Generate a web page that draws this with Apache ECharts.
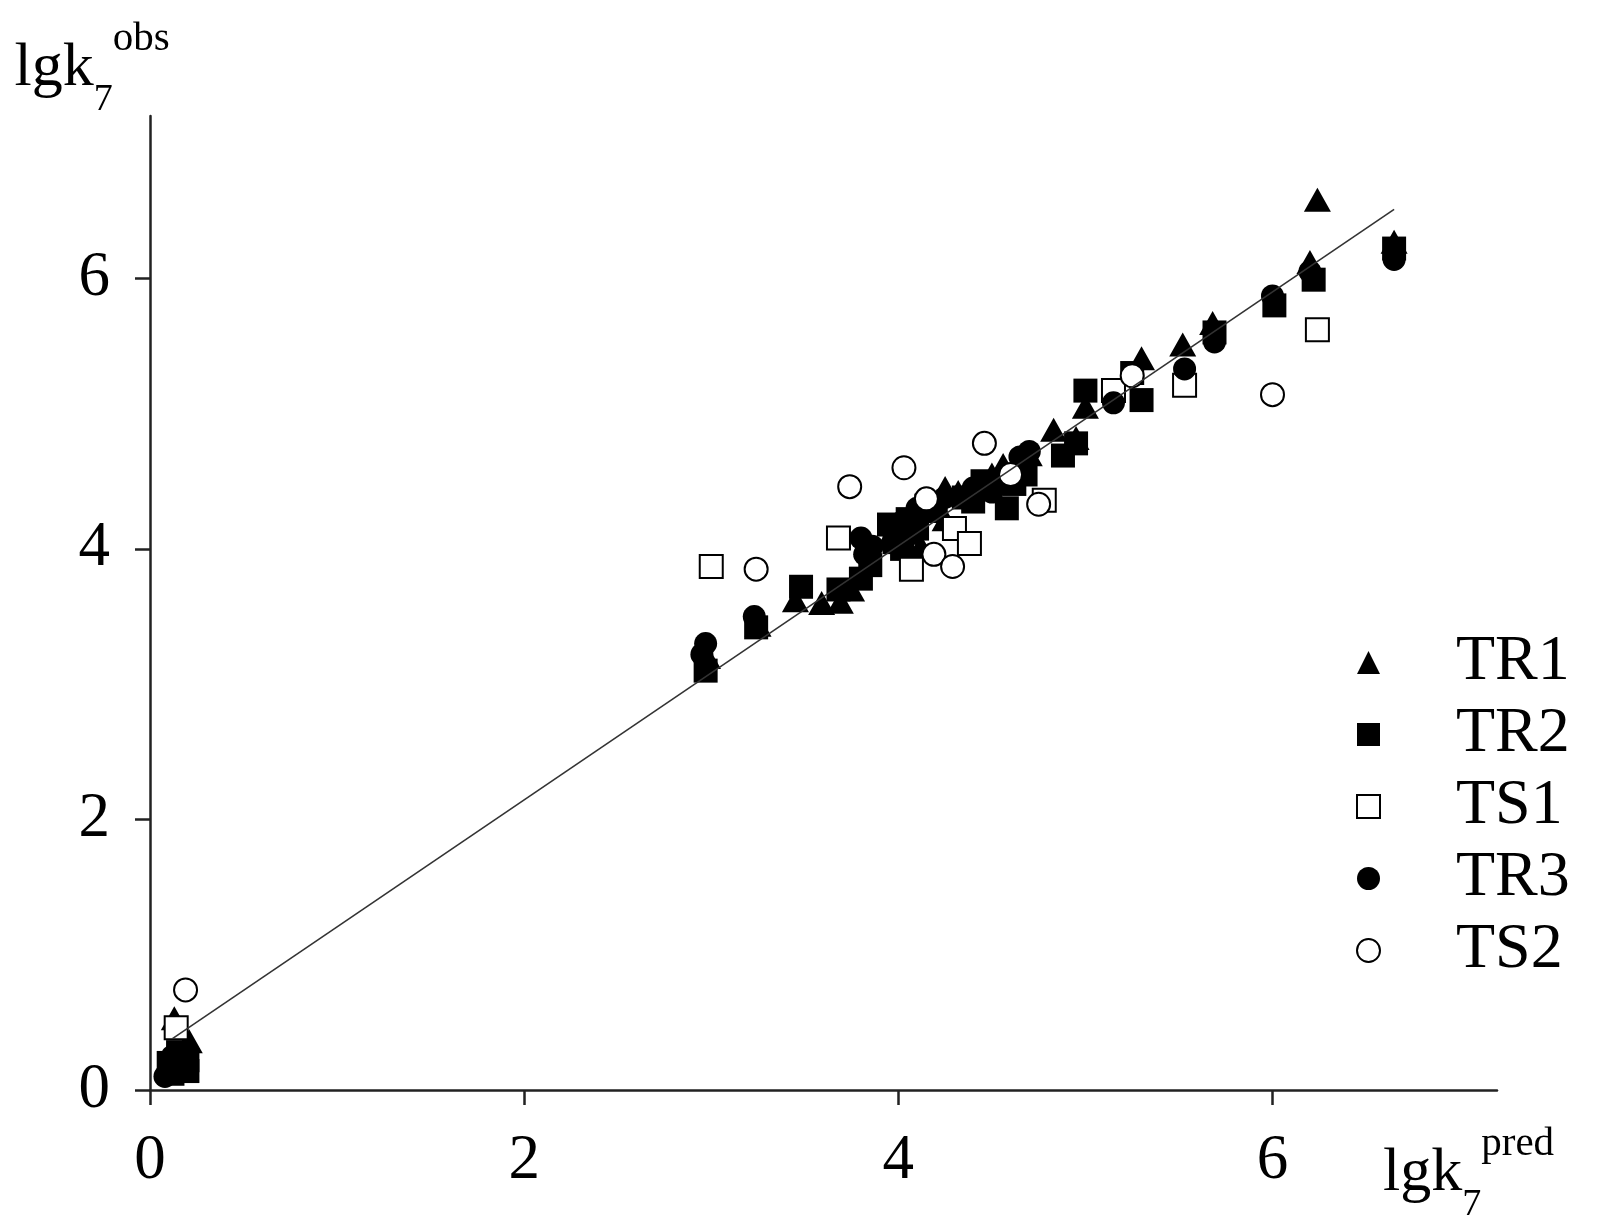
<!DOCTYPE html>
<html>
<head>
<meta charset="utf-8">
<script src="https://cdn.jsdelivr.net/npm/echarts@6/dist/echarts.min.js"></script>
<style>
  html, body { margin: 0; padding: 0; background: #fff; }
  #chart { width: 1601px; height: 1227px; }
</style>
</head>
<body>
<div id="chart"></div>
<script>
// lgk7 pred / obs values
var tr1 = [
  [0.13, 0.53], [0.18, 0.3], [0.21, 0.36],
  [2.98, 3.2], [3.25, 3.44], [3.45, 3.62], [3.59, 3.6], [3.69, 3.61], [3.75, 3.7],
  [3.95, 4.08], [4.0, 4.2], [4.05, 4.12], [4.12, 4.02], [4.25, 4.22], [4.25, 4.45], [4.32, 4.42],
  [4.5, 4.55], [4.56, 4.62], [4.7, 4.7], [4.83, 4.88], [4.95, 4.82], [5.0, 5.05],
  [5.3, 5.41], [5.52, 5.51], [5.68, 5.67], [6.2, 6.12], [6.24, 6.58], [6.65, 6.27]
];
var tr2 = [
  [0.1, 0.2], [0.2, 0.22], [0.15, 0.28], [0.12, 0.12], [0.2, 0.14],
  [2.97, 3.1], [3.24, 3.42], [3.48, 3.72], [3.68, 3.7], [3.8, 3.78], [3.85, 3.88],
  [3.95, 4.18], [3.98, 4.05], [4.02, 4.0], [4.05, 4.22], [4.1, 4.15], [4.15, 4.32], [4.2, 4.28],
  [4.35, 4.38], [4.4, 4.35], [4.45, 4.5], [4.58, 4.3], [4.62, 4.48], [4.68, 4.55], [4.88, 4.69],
  [4.95, 4.78], [5.0, 5.17], [5.25, 5.3], [5.3, 5.1], [5.69, 5.6], [6.01, 5.8],
  [6.22, 5.99], [6.65, 6.22]
];
var ts1 = [
  [0.14, 0.46], [3.0, 3.87], [3.68, 4.08], [4.07, 3.85], [4.3, 4.15], [4.38, 4.04],
  [4.78, 4.36], [5.15, 5.17], [5.53, 5.21], [6.24, 5.62]
];
var tr3 = [
  [0.1, 0.15], [0.12, 0.25], [0.2, 0.18], [0.08, 0.1],
  [2.97, 3.3], [2.95, 3.22], [3.23, 3.5], [3.8, 4.08], [3.82, 3.96], [3.86, 4.02],
  [4.0, 4.05], [4.02, 4.2], [4.08, 4.12], [4.1, 4.3], [4.25, 4.38], [4.4, 4.45], [4.5, 4.42], [4.55, 4.5],
  [4.65, 4.68], [4.7, 4.72], [5.15, 5.08], [5.53, 5.33], [5.69, 5.53], [6.0, 5.87],
  [6.2, 6.05], [6.65, 6.14]
];
var ts2 = [
  [0.19, 0.74], [3.24, 3.85], [3.74, 4.46], [4.03, 4.6], [4.15, 4.37], [4.19, 3.96],
  [4.29, 3.87], [4.46, 4.78], [4.6, 4.55], [4.75, 4.33], [5.25, 5.28], [6.0, 5.14]
];
var fitLine = [[0.12, 0.38], [6.65, 6.51]];
var tickValues = [0, 2, 4, 6];
var seriesNames = ['TR1', 'TR2', 'TS1', 'TR3', 'TS2'];

var serif = 'Liberation Serif';

var chart = echarts.init(document.getElementById('chart'));

function axisCommon() {
  return {
    type: 'value',
    min: 0,
    max: 7.2,
    interval: 2,
    splitLine: { show: false },
    axisLine: { show: true, onZero: false, lineStyle: { color: '#222', width: 2.5 } },
    axisTick: { show: true, inside: false, length: 15, customValues: tickValues, lineStyle: { color: '#222', width: 2.5 } },
    axisLabel: { customValues: tickValues, fontFamily: serif, fontSize: 63, color: '#000', margin: 40 }
  };
}

var nameRich = {
  m: { fontFamily: serif, fontSize: 62, color: '#000', lineHeight: 100, verticalAlign: 'middle' },
  s: { fontFamily: serif, fontSize: 38, color: '#000', lineHeight: 50, verticalAlign: 'bottom' },
  p: { fontFamily: serif, fontSize: 41, color: '#000', lineHeight: 52, verticalAlign: 'top' }
};

var xAxis = axisCommon();
xAxis.name = '{m|lgk}{s|7}{p|pred}';
xAxis.nameLocation = 'end';
xAxis.nameGap = -114;
xAxis.nameTextStyle = { verticalAlign: 'top', align: 'left', padding: [34, 0, 0, 0], rich: nameRich };

var yAxis = axisCommon();
yAxis.name = '{m|lgk}{s|7}{p|obs}';
yAxis.nameLocation = 'end';
yAxis.nameGap = -3;
yAxis.nameTextStyle = { align: 'center', padding: [0, 116, 0, 0], rich: nameRich };

function scatter(name, data, symbol, size) {
  return {
    name: name,
    type: 'scatter',
    data: data,
    symbol: symbol,
    symbolSize: size,
    itemStyle: { color: '#000', borderColor: '#000', borderWidth: symbol.indexOf('empty') === 0 ? 2 : 0, opacity: 1 },
    emphasis: { disabled: true }
  };
}

var option = {
  backgroundColor: '#fff',
  animation: false,
  grid: { left: 150, right: 104, top: 116, bottom: 137 },
  xAxis: xAxis,
  yAxis: yAxis,
  legend: {
    data: seriesNames,
    orient: 'vertical',
    left: 1356,
    top: 629,
    padding: 0,
    itemWidth: 23,
    itemHeight: 23,
    itemGap: 5,
    textStyle: { fontFamily: serif, fontSize: 64, lineHeight: 67, color: '#000', padding: [0, 0, 0, 71] }
  },
  series: [
    {
      name: 'fit',
      type: 'line',
      data: fitLine,
      showSymbol: false,
      symbol: 'none',
      lineStyle: { color: '#333', width: 1.6 },
      silent: true
    },
    scatter('TR1', tr1, 'triangle', [27, 24]),
    scatter('TR2', tr2, 'rect', 24),
    scatter('TS1', ts1, 'emptyRect', 23),
    scatter('TR3', tr3, 'circle', 23),
    scatter('TS2', ts2, 'emptyCircle', 23)
  ]
};

chart.setOption(option);
</script>
</body>
</html>
